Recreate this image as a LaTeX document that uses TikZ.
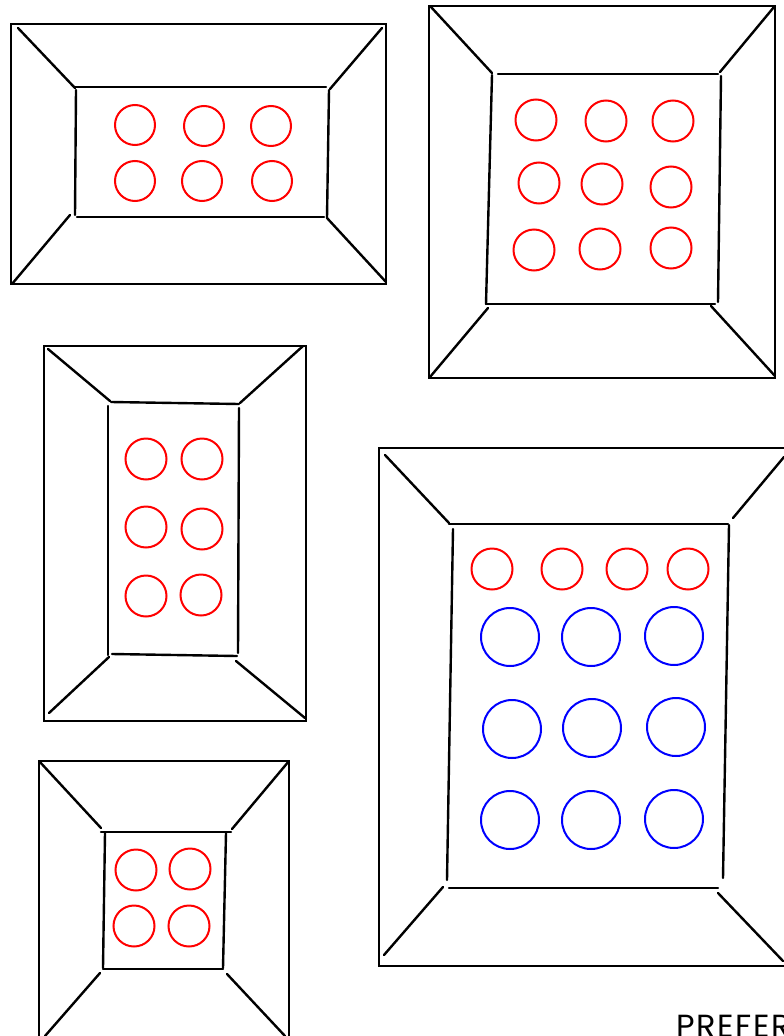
\documentclass[tikz,border=0pt]{standalone}
\usepackage{fontspec}
\newfontfamily\signfont[LetterSpace=5]{Poppins}
\usetikzlibrary{calc}
\tikzset{
  wall/.style={line width=2.4pt,black,line cap=round},
  lamp/.style={line width=2pt,red},
  bulb/.style={line width=2pt,blue}
}

\begin{document}
\begin{tikzpicture}[x=1pt,y=-1pt]
  \useasboundingbox (0,0) rectangle (784,1036);
  \begin{scope}
  \clip (0,0) rectangle (784,1036);
  % room 1, top left
  \draw[wall] (11,24) rectangle (386,284);
  \draw[wall] (18,28) -- (75,88);
  \draw[wall] (382,28) -- (330,89);
  \draw[wall] (70,215) -- (12,284);
  \draw[wall] (327,218) -- (386,282);
  \draw[wall] (75,87) -- (326,87);
  \draw[wall] (76,90) -- (75,215);
  \draw[wall] (329,90) -- (327,218);
  \draw[wall] (77,217) -- (324,217);
  \foreach \x/\y in {135/125,204/126,271/126,135/181,202/181,272/181}
    \draw[lamp] (\x,\y) circle (20pt);
  % room 2, top right
  \draw[wall] (429,6) rectangle (775,378);
  \draw[wall] (431,7) -- (492,73);
  \draw[wall] (774,7) -- (720,72);
  \draw[wall] (488,308) -- (430,377);
  \draw[wall] (711,306) -- (775,376);
  \draw[wall] (498,74) -- (718,74);
  \draw[wall] (492,75) -- (486,304);
  \draw[wall] (721,76) -- (718,302);
  \draw[wall] (486,304) -- (715,304);
  \foreach \x/\y in {536/120,606/121,673/121,539/183,602/184,671/187,534/250,600/249,671/248}
    \draw[lamp] (\x,\y) circle (20.5pt);
  % room 3, left middle
  \draw[wall] (44,346) rectangle (306,721);
  \draw[wall] (48,349) -- (110,401);
  \draw[wall] (303,346) -- (240,403);
  \draw[wall] (109,657) -- (49,713);
  \draw[wall] (236,661) -- (305,718);
  \draw[wall] (111,402) -- (239,404);
  \draw[wall] (108,406) -- (108,655);
  \draw[wall] (239,408) -- (238,653);
  \draw[wall] (112,654) -- (237,656);
  \foreach \x/\y in {146/459,202/459,146/527,202/529,146/596,201/595}
    \draw[lamp] (\x,\y) circle (20.5pt);
  % room 4, bottom left
  \draw[wall] (39,1045) -- (39,761) -- (289,761) -- (289,1045);
  \draw[wall] (39,761) -- (101,828);
  \draw[wall] (289,761) -- (232,829);
  \draw[wall] (100,973) -- (45,1036);
  \draw[wall] (227,974) -- (285,1036);
  \draw[wall] (101,832) -- (231,832);
  \draw[wall] (105,833) -- (103,968);
  \draw[wall] (226,833) -- (223,968);
  \draw[wall] (103,969) -- (223,969);
  \foreach \x/\y in {136/870,190/869,134/926,189/926}
    \draw[lamp] (\x,\y) circle (20.5pt);
  % room 5, big one
  \draw[wall] (795,448) -- (379,448) -- (379,966) -- (795,966);
  \draw[wall] (385,455) -- (449,523);
  \draw[wall] (784,457) -- (733,518);
  \draw[wall] (443,887) -- (384,955);
  \draw[wall] (718,893) -- (783,961);
  \draw[wall] (449,524) -- (728,524);
  \draw[wall] (453,529) -- (447,880);
  \draw[wall] (729,525) -- (723,878);
  \draw[wall] (449,888) -- (718,888);
  \foreach \x in {492,562,627,688}
    \draw[lamp] (\x,569) circle (20.5pt);
  \foreach \x/\y in {510/637,591/637,674/636,512/729,592/728,676/727,510/820,591/820,674/819}
    \draw[bulb] (\x,\y) circle (29pt);
  \node[anchor=base west,inner sep=0pt,font=\signfont\fontsize{32}{34}\selectfont] (tag) at (676,1037) {PREFER};
  \end{scope}
\end{tikzpicture}
\end{document}
